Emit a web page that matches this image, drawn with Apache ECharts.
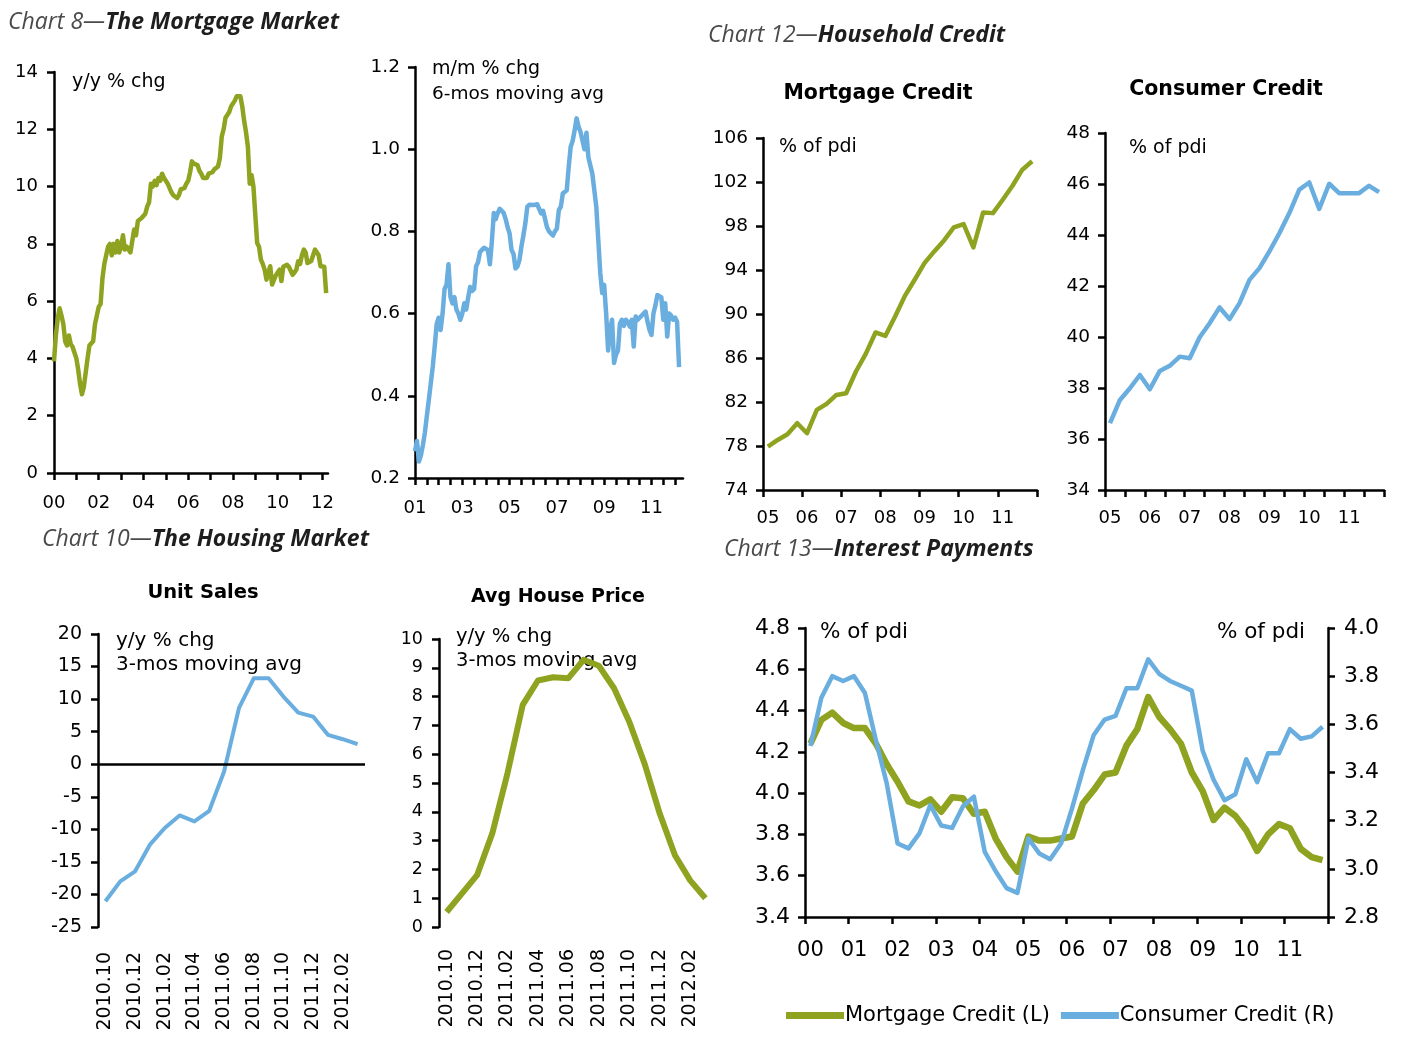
<!DOCTYPE html>
<html>
<head>
<meta charset="utf-8">
<script src="https://cdn.jsdelivr.net/npm/echarts@6/dist/echarts.min.js"></script>
<style>
html,body{margin:0;padding:0;background:#fff;}
#c{width:1407px;height:1042px;}
</style>
</head>
<body>
<div id="c"></div>
<script>
const FONT = 'DejaVu Sans';
const HFONT = 'Open Sans';
const GREEN = '#8fa320';
const BLUE = '#6aaedf';

// ---- Chart 8 left: mortgage credit y/y % chg, monthly Jan 2000 - Mar 2012
const mortYoY = [
  3.9, 4.8, 5.4, 5.75, 5.5, 5.2, 4.6, 4.45, 4.8, 4.5, 4.4, 4.2,
  4.0, 3.6, 3.1, 2.75, 3.0, 3.5, 4.0, 4.45, 4.5, 4.6, 5.2, 5.5,
  5.8, 5.9, 6.8, 7.3, 7.6, 7.9, 8.0, 7.6, 8.0, 7.7, 8.1, 7.7,
  7.9, 8.3, 7.8, 7.9, 7.8, 7.7, 7.75, 8.5, 8.3, 8.8, 8.8, 8.9,
  8.95, 9.05, 9.3, 9.45, 10.1, 10.0, 10.2, 10.05, 10.3, 10.2, 10.45, 10.3,
  10.2, 10.1, 10.05, 9.8, 9.7, 9.65, 9.6, 9.7, 9.9, 9.95, 9.95, 10.1,
  10.2, 10.5, 10.88, 10.8, 10.8, 10.75, 10.55, 10.45, 10.3, 10.25, 10.3, 10.45,
  10.47, 10.5, 10.6, 10.65, 10.7, 11.0, 11.75, 12.0, 12.4, 12.5, 12.6, 12.8,
  12.86, 13.0, 13.15, 13.15, 13.15, 12.8, 12.3, 11.9, 11.4, 10.1, 10.4, 10.0,
  9.0, 8.03, 7.9, 7.45, 7.3, 7.1, 6.75, 6.8, 7.22, 6.58, 6.6, 6.9,
  7.0, 7.1, 6.7, 7.2, 7.25, 7.27, 7.2, 7.25, 6.92, 7.0, 7.1, 7.39,
  7.3, 7.6, 7.8, 7.7, 7.33, 7.35, 7.4, 7.45, 7.8, 7.75, 7.6, 7.22,
  7.25, 7.2, 6.28
];

// ---- Chart 8 right: m/m % chg 6-mos moving avg, monthly Jan 2001 - Mar 2012
const mortMoM = [
  0.265, 0.29, 0.24, 0.255, 0.28, 0.31, 0.35, 0.39, 0.43, 0.47, 0.52, 0.575,
  0.59, 0.56, 0.60, 0.66, 0.67, 0.72, 0.64, 0.625, 0.64, 0.61, 0.60, 0.585,
  0.60, 0.625, 0.61, 0.64, 0.665, 0.655, 0.66, 0.715, 0.725, 0.75, 0.755, 0.76,
  0.76, 0.755, 0.72, 0.775, 0.845, 0.83, 0.845, 0.855, 0.858, 0.845, 0.83, 0.81,
  0.795, 0.755, 0.745, 0.71, 0.715, 0.73, 0.763, 0.79, 0.82, 0.86, 0.865, 0.862,
  0.864, 0.862, 0.866, 0.868, 0.844, 0.85, 0.83, 0.81, 0.80, 0.795, 0.79, 0.80,
  0.807, 0.852, 0.86, 0.892, 0.89, 0.90, 0.957, 1.006, 1.02, 1.046, 1.075, 1.055,
  1.042, 1.045, 1.0, 1.04, 0.98, 0.96, 0.94, 0.90, 0.86, 0.78, 0.70, 0.65,
  0.67, 0.60, 0.51, 0.56, 0.585, 0.48, 0.50, 0.51, 0.576, 0.585, 0.57, 0.585,
  0.58, 0.568, 0.585, 0.52, 0.593, 0.585, 0.59, 0.593, 0.60, 0.605, 0.58, 0.56,
  0.548, 0.60, 0.62, 0.645, 0.648, 0.64, 0.585, 0.625, 0.544, 0.60, 0.595, 0.585,
  0.59, 0.58, 0.47
];

// ---- Chart 12: household credit, quarterly 2005Q1 - 2011Q4
const mortCredit = [
  77.94, 78.55, 79.07, 80.07, 79.16, 81.28, 81.83, 82.64,
  82.8, 84.77, 86.37, 88.32, 88.01, 89.77, 91.65, 93.11,
  94.62, 95.69, 96.69, 97.87, 98.17, 96.05, 99.23, 99.17,
  100.39, 101.66, 103.12, 103.88
];
const consCredit = [
  36.62, 37.53, 37.99, 38.51, 37.95, 38.67, 38.87, 39.23,
  39.17, 39.99, 40.54, 41.16, 40.7, 41.33, 42.24, 42.7,
  43.36, 44.07, 44.86, 45.78, 46.06, 45.02, 46.01, 45.64,
  45.64, 45.64, 45.93, 45.68
];

// ---- Chart 10: housing market, monthly 2010.10 - 2012.03
const housingMonths = [
  '2010.10', '2010.11', '2010.12', '2011.01', '2011.02', '2011.03',
  '2011.04', '2011.05', '2011.06', '2011.07', '2011.08', '2011.09',
  '2011.10', '2011.11', '2011.12', '2012.01', '2012.02', '2012.03'
];
const unitSales = [
  -21.05, -17.99, -16.45, -12.36, -9.8, -7.86, -8.78, -7.15, -1.11,
  8.6, 13.2, 13.2, 10.39, 7.93, 7.32, 4.51, 3.84, 3.08
];
const housePrice = [
  0.52, 1.16, 1.8, 3.25, 5.34, 7.71, 8.56, 8.67, 8.64,
  9.28, 9.07, 8.29, 7.13, 5.68, 3.94, 2.49, 1.62, 1.0
];

// ---- Chart 13: interest payments, quarterly 2000Q1 - 2011Q4
const intMortgage = [
  4.24, 4.355, 4.39, 4.34, 4.315, 4.315, 4.24, 4.14,
  4.055, 3.96, 3.94, 3.97, 3.91, 3.98, 3.975, 3.90,
  3.91, 3.78, 3.69, 3.62, 3.79, 3.77, 3.77, 3.78,
  3.79, 3.95, 4.015, 4.09, 4.10, 4.23, 4.31, 4.465,
  4.37, 4.31, 4.24, 4.10, 4.01, 3.87, 3.93, 3.89,
  3.82, 3.72, 3.80, 3.85, 3.83, 3.73, 3.69, 3.675
];
const intConsumer = [
  3.51, 3.71, 3.80, 3.78, 3.80, 3.73, 3.535, 3.355,
  3.105, 3.085, 3.147, 3.265, 3.18, 3.17, 3.26, 3.30,
  3.07, 2.99, 2.92, 2.90, 3.126, 3.064, 3.04, 3.105,
  3.25, 3.41, 3.556, 3.62, 3.635, 3.75, 3.75, 3.87,
  3.81, 3.78, 3.76, 3.74, 3.49, 3.37, 3.285, 3.31,
  3.455, 3.36, 3.48, 3.48, 3.58, 3.54, 3.55, 3.59
];

// ---- category builders (labels only)
function monthCats(y, m, n) {
  const out = [];
  for (let i = 0; i < n; i++) {
    const mm = (m - 1 + i) % 12 + 1;
    const yy = y + Math.floor((m - 1 + i) / 12);
    out.push(yy + '-' + (mm < 10 ? '0' : '') + mm);
  }
  return out;
}
function quarterCats(y, n) {
  const out = [];
  for (let i = 0; i < n; i++) out.push((y + Math.floor(i / 4)) + 'Q' + (i % 4 + 1));
  return out;
}
const monthsA = monthCats(2000, 1, 148);
const monthsB = monthCats(2001, 1, 137);
const quarters05 = quarterCats(2005, 28);
const quarters00 = quarterCats(2000, 48);
const yy = v => v.slice(2, 4);

const AXL = { color: '#000', width: 2.5 };

function catAxis(grid, data, o) {
  return Object.assign({
    type: 'category', gridIndex: grid, data: data,
    axisLine: { show: true, onZero: false, lineStyle: AXL },
    axisTick: { show: true, length: 7, lineStyle: AXL },
    splitLine: { show: false }
  }, o);
}
function valAxis(grid, min, max, interval, size, margin, o) {
  return Object.assign({
    type: 'value', gridIndex: grid, min: min, max: max, interval: interval,
    axisLine: { show: true, lineStyle: AXL },
    axisTick: { show: true, length: 7, lineStyle: AXL },
    splitLine: { show: false },
    axisLabel: { fontFamily: FONT, fontSize: size, color: '#000', margin: margin }
  }, o || {});
}
function lineSeries(name, xi, yi, data, color, width, extra) {
  return Object.assign({
    name: name, type: 'line', xAxisIndex: xi, yAxisIndex: yi, data: data,
    showSymbol: false, symbol: 'none', smooth: false,
    lineStyle: { color: color, width: width, join: 'round' },
    itemStyle: { color: color },
    z: 3
  }, extra || {});
}
function txt(x, y, text, size, extra) {
  return {
    type: 'text', x: x, y: y, silent: true,
    style: Object.assign({
      text: text, fontSize: size, fontFamily: FONT, fill: '#000',
      align: 'left', verticalAlign: 'middle'
    }, extra || {})
  };
}
function heading(x, y, a, b) {
  return {
    type: 'text', x: x, y: y, silent: true,
    style: {
      text: '{a|' + a + '}{b|' + b + '}',
      verticalAlign: 'middle', align: 'left',
      rich: {
        a: { fontFamily: HFONT, fontStyle: 'italic', fontSize: 23, fill: '#4a4a4a', color: '#4a4a4a' },
        b: { fontFamily: HFONT, fontStyle: 'italic', fontWeight: 'bold', fontSize: 23, fill: '#1e1e1e', color: '#1e1e1e' }
      }
    }
  };
}

const chart = echarts.init(document.getElementById('c'), null, { renderer: 'canvas' });

const option = {
  animation: false,
  backgroundColor: '#ffffff',
  grid: [
    { left: 54, top: 72, width: 274, height: 401 },
    { left: 415, top: 67, width: 268, height: 411 },
    { left: 763, top: 138, width: 274, height: 352 },
    { left: 1105, top: 133, width: 279, height: 357 },
    { left: 98, top: 634, width: 267, height: 293 },
    { left: 439, top: 639, width: 274, height: 288 },
    { left: 805, top: 628, width: 523, height: 289 }
  ],
  xAxis: [
    catAxis(0, monthsA, {
      boundaryGap: false,
      axisTick: { show: true, length: 7, lineStyle: AXL, interval: i => i % 12 === 0 },
      axisLabel: { interval: i => i % 24 === 0, formatter: yy, fontFamily: FONT, fontSize: 18, color: '#000', margin: 21 }
    }),
    catAxis(1, monthsB, {
      boundaryGap: false,
      axisTick: { show: true, length: 7, lineStyle: AXL, interval: i => i % 6 === 0 },
      axisLabel: { interval: i => i % 24 === 0, formatter: yy, fontFamily: FONT, fontSize: 18, color: '#000', margin: 21 }
    }),
    catAxis(2, quarters05, {
      boundaryGap: true,
      axisTick: { show: true, length: 7, lineStyle: AXL, interval: 3 },
      axisLabel: { interval: 3, formatter: yy, fontFamily: FONT, fontSize: 18, color: '#000', margin: 19 }
    }),
    catAxis(3, quarters05, {
      boundaryGap: true,
      axisTick: { show: true, length: 7, lineStyle: AXL, interval: 1 },
      axisLabel: { interval: 3, formatter: yy, fontFamily: FONT, fontSize: 18, color: '#000', margin: 19 }
    }),
    catAxis(4, housingMonths, {
      boundaryGap: true,
      axisLine: { show: false, onZero: false },
      axisTick: { show: false },
      axisLabel: { interval: 1, rotate: 90, fontFamily: FONT, fontSize: 19, color: '#000', margin: 25 }
    }),
    catAxis(5, housingMonths, {
      boundaryGap: true,
      axisLine: { show: false, onZero: false },
      axisTick: { show: false },
      axisLabel: { interval: 1, rotate: 90, fontFamily: FONT, fontSize: 19, color: '#000', margin: 22 }
    }),
    catAxis(6, quarters00, {
      boundaryGap: true,
      axisTick: { show: true, length: 7, lineStyle: AXL, interval: 3 },
      axisLabel: { interval: 3, formatter: yy, fontFamily: FONT, fontSize: 21, color: '#000', margin: 23 }
    })
  ],
  yAxis: [
    valAxis(0, 0, 14, 2, 18, 16),
    valAxis(1, 0.2, 1.2, 0.2, 18, 15, { axisLabel: { fontFamily: FONT, fontSize: 18.5, color: '#000', margin: 15, formatter: v => v.toFixed(1) } }),
    valAxis(2, 74, 106, 4, 18.5, 15),
    valAxis(3, 34, 48, 2, 18.5, 15),
    valAxis(4, -25, 20, 5, 19, 16),
    valAxis(5, 0, 10, 1, 17.5, 16),
    valAxis(6, 3.4, 4.8, 0.2, 22, 15, { axisLabel: { fontFamily: FONT, fontSize: 22, color: '#000', margin: 15, formatter: v => v.toFixed(1) } }),
    valAxis(6, 2.8, 4.0, 0.2, 22, 15, { position: 'right', axisLabel: { fontFamily: FONT, fontSize: 22, color: '#000', margin: 16, formatter: v => v.toFixed(1) } })
  ],
  legend: {
    left: 786, top: 1005, padding: 0,
    itemWidth: 58, itemHeight: 7, itemGap: 11,
    icon: 'rect',
    selectedMode: false,
    textStyle: { fontFamily: FONT, fontSize: 21, color: '#000', padding: [0, 0, 0, -4] },
    data: ['Mortgage Credit (L)', 'Consumer Credit (R)']
  },
  series: [
    lineSeries('Mortgage y/y', 0, 0, mortYoY, GREEN, 4.5),
    lineSeries('Mortgage m/m', 1, 1, mortMoM, BLUE, 4.5),
    lineSeries('Mortgage Credit', 2, 2, mortCredit, GREEN, 4.5),
    lineSeries('Consumer Credit', 3, 3, consCredit, BLUE, 4.5),
    lineSeries('Unit Sales', 4, 4, unitSales, BLUE, 4, {
      markLine: {
        silent: true, symbol: ['none', 'none'], label: { show: false },
        lineStyle: { color: '#000', width: 2.5, type: 'solid' },
        data: [{ yAxis: 0 }]
      }
    }),
    lineSeries('Avg House Price', 5, 5, housePrice, GREEN, 6),
    lineSeries('Mortgage Credit (L)', 6, 6, intMortgage, GREEN, 6.5),
    lineSeries('Consumer Credit (R)', 6, 7, intConsumer, BLUE, 4.5)
  ],
  graphic: [
    heading(8, 22, 'Chart 8—', 'The Mortgage Market'),
    heading(708, 35, 'Chart 12—', 'Household Credit'),
    heading(42, 539, 'Chart 10—', 'The Housing Market'),
    heading(724, 549, 'Chart 13—', 'Interest Payments'),
    txt(878, 94, 'Mortgage Credit', 20.5, { fontWeight: 'bold', align: 'center' }),
    txt(1226, 90, 'Consumer Credit', 20.5, { fontWeight: 'bold', align: 'center' }),
    txt(203, 593, 'Unit Sales', 19.5, { fontWeight: 'bold', align: 'center' }),
    txt(558, 597, 'Avg House Price', 19, { fontWeight: 'bold', align: 'center' }),
    txt(72, 82, 'y/y % chg', 19),
    txt(432, 69, 'm/m % chg', 19),
    txt(432, 94, '6-mos moving avg', 18.5),
    txt(779, 147, '% of pdi', 19),
    txt(1129, 148, '% of pdi', 19),
    txt(116, 641, 'y/y % chg', 20),
    txt(116, 665, '3-mos moving avg', 20),
    txt(456, 637, 'y/y % chg', 19.5),
    txt(456, 661, '3-mos moving avg', 19.5),
    txt(820, 632, '% of pdi', 21.5),
    txt(1305, 632, '% of pdi', 21.5, { align: 'right' })
  ]
};
chart.setOption(option);
</script>
</body>
</html>
